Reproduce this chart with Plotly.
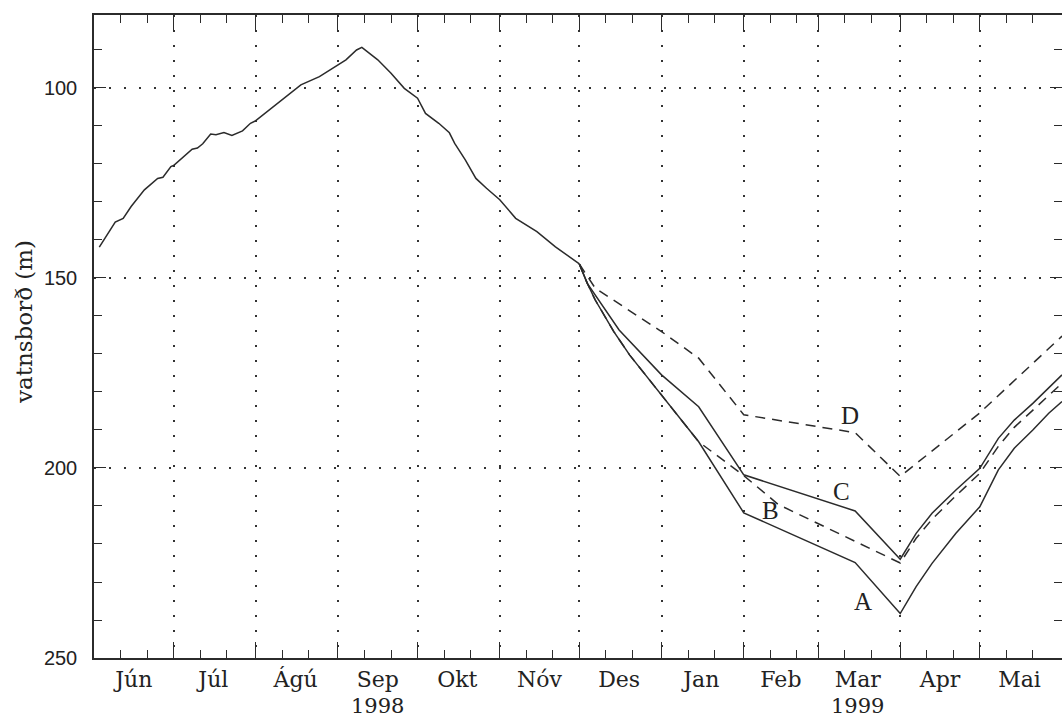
import plotly.graph_objects as go

# ---------------- data ----------------
main_dates = ["1998-06-03", "1998-06-07", "1998-06-09", "1998-06-12", "1998-06-15", "1998-06-20",
              "1998-06-23", "1998-06-25", "1998-06-27", "1998-06-30", "1998-07-01", "1998-07-05",
              "1998-07-08", "1998-07-10", "1998-07-12", "1998-07-15", "1998-07-17", "1998-07-20",
              "1998-07-23", "1998-07-27", "1998-07-30", "1998-08-01", "1998-08-07", "1998-08-13",
              "1998-08-18", "1998-08-25", "1998-08-31", "1998-09-04", "1998-09-08", "1998-09-10",
              "1998-09-16", "1998-09-21", "1998-09-26", "1998-10-01", "1998-10-04", "1998-10-09",
              "1998-10-13", "1998-10-15", "1998-10-19", "1998-10-23", "1998-10-27", "1998-11-01",
              "1998-11-07", "1998-11-15", "1998-11-22", "1998-11-30", "1998-12-01"]
main_vals = [141.9, 137.4, 135.3, 134.3, 131.2, 126.8,
             124.9, 123.8, 123.5, 120.7, 120.4, 117.9,
             116.1, 115.8, 114.7, 112.1, 112.3, 111.7,
             112.5, 111.3, 109.3, 108.6, 105.3, 101.8,
             99.2, 97.0, 94.4, 92.6, 90.0, 89.3,
             92.6, 96.1, 100.1, 102.7, 106.7, 109.3,
             111.8, 114.6, 118.9, 123.8, 126.4, 129.4,
             134.3, 137.8, 141.8, 145.7, 146.3]

a_dates = ["1998-12-01", "1998-12-04", "1998-12-07", "1998-12-14", "1998-12-20", "1999-01-01",
           "1999-01-15", "1999-02-01", "1999-03-15", "1999-04-01", "1999-04-07", "1999-04-13",
           "1999-04-22", "1999-05-01", "1999-05-05", "1999-05-08", "1999-05-14", "1999-05-21",
           "1999-05-27", "1999-06-01"]
a_vals = [146.3, 151.4, 155.8, 164.1, 170.3, 180.7,
          193.1, 211.8, 224.9, 238.3, 231.2, 225.1,
          217.2, 210.2, 204.9, 200.5, 194.8, 190.0,
          185.6, 182.5]

b_dates = ["1998-12-01", "1998-12-04", "1998-12-07", "1998-12-14", "1998-12-20", "1999-01-01",
           "1999-01-15", "1999-02-01", "1999-02-14", "1999-04-01", "1999-04-07", "1999-04-13",
           "1999-04-22", "1999-05-01", "1999-05-08", "1999-05-14", "1999-05-21", "1999-06-01"]
b_vals = [146.3, 151.4, 155.8, 164.1, 170.3, 180.7,
          193.1, 202.0, 209.6, 225.0, 218.5, 213.5,
          207.3, 201.4, 194.3, 189.3, 184.8, 177.7]

c_dates = ["1998-12-01", "1998-12-04", "1998-12-16", "1999-01-01", "1999-01-15", "1999-02-01",
           "1999-03-15", "1999-04-01", "1999-04-07", "1999-04-13", "1999-04-22", "1999-05-01",
           "1999-05-08", "1999-05-14", "1999-05-21", "1999-06-01"]
c_vals = [146.3, 151.4, 163.7, 175.5, 183.9, 201.8,
          211.3, 224.0, 217.2, 211.9, 205.8, 200.1,
          192.2, 187.4, 183.0, 175.5]

d_dates = ["1998-12-01", "1998-12-07", "1999-01-01", "1999-01-15", "1999-02-01", "1999-03-15",
           "1999-04-01", "1999-05-01", "1999-06-01"]
d_vals = [146.3, 152.7, 164.1, 171.1, 186.0, 190.7,
          202.2, 185.5, 165.3]

scenario_labels = ["A", "B", "C", "D"]
label_dates = ["1999-03-18", "1999-02-11", "1999-03-10", "1999-03-13"]
label_vals = [235.1, 211.1, 206.2, 186.1]

month_starts = ["1998-06-01", "1998-07-01", "1998-08-01", "1998-09-01", "1998-10-01", "1998-11-01",
                "1998-12-01", "1999-01-01", "1999-02-01", "1999-03-01", "1999-04-01", "1999-05-01",
                "1999-06-01"]
minor_days = ["1998-06-11", "1998-06-21", "1998-07-11", "1998-07-21", "1998-08-11", "1998-08-21",
              "1998-09-11", "1998-09-21", "1998-10-11", "1998-10-21", "1998-11-11", "1998-11-21",
              "1998-12-11", "1998-12-21", "1999-01-11", "1999-01-21", "1999-02-11", "1999-02-21",
              "1999-03-11", "1999-03-21", "1999-04-11", "1999-04-21", "1999-05-11", "1999-05-21"]
month_mids = ["1998-06-16", "1998-07-16", "1998-08-16", "1998-09-16", "1998-10-16", "1998-11-16",
              "1998-12-16", "1999-01-16", "1999-02-15", "1999-03-16", "1999-04-16", "1999-05-16"]
month_names = ["Jún", "Júl", "Ágú", "Sep", "Okt", "Nóv", "Des", "Jan", "Feb", "Mar", "Apr", "Mai"]
year_dates = ["1998-09-16", "1999-03-16"]
year_names = ["1998", "1999"]

y_major = [100, 150, 200, 250]
y_major_text = ["100", "150", "200", "250"]

# ---------------- styles ----------------
INK = "#2b2b2b"
LW = 1.5
DASH = "10px,7px"
X_RANGE = ["1998-06-01", "1999-06-01"]
SERIF = "DejaVu Serif"

fig = go.Figure()

fig.add_trace(go.Scatter(x=main_dates, y=main_vals, mode="lines",
                         line=dict(color=INK, width=LW), showlegend=False, hoverinfo="skip"))
fig.add_trace(go.Scatter(x=a_dates, y=a_vals, mode="lines",
                         line=dict(color=INK, width=LW), showlegend=False, hoverinfo="skip"))
fig.add_trace(go.Scatter(x=c_dates, y=c_vals, mode="lines",
                         line=dict(color=INK, width=LW), showlegend=False, hoverinfo="skip"))
fig.add_trace(go.Scatter(x=b_dates, y=b_vals, mode="lines",
                         line=dict(color=INK, width=LW, dash=DASH), showlegend=False, hoverinfo="skip"))
fig.add_trace(go.Scatter(x=d_dates, y=d_vals, mode="lines",
                         line=dict(color=INK, width=LW, dash=DASH), showlegend=False, hoverinfo="skip"))
# carrier trace for the month label axis
fig.add_trace(go.Scatter(x=month_mids, y=[None] * len(month_mids), xaxis="x2", mode="lines",
                         showlegend=False, hoverinfo="skip"))

for lab, xd, yv in zip(scenario_labels, label_dates, label_vals):
    fig.add_annotation(x=xd, y=yv, xref="x", yref="y", text=lab, showarrow=False,
                       font=dict(family="Liberation Serif", size=25, color="#222"))

for xd, yn in zip(year_dates, year_names):
    fig.add_annotation(x=xd, y=0, xref="x", yref="paper", text=yn, showarrow=False,
                       yanchor="middle", yshift=-48,
                       font=dict(family=SERIF, size=21, color="#222"))

fig.add_annotation(x=0, y=0.5226, xref="paper", yref="paper", text="vatnsborð (m)",
                   textangle=-90, showarrow=False, xanchor="center", yanchor="middle", xshift=-70,
                   font=dict(family=SERIF, size=23, color="#222"))

fig.update_layout(
    width=1062, height=720,
    margin=dict(l=94, r=0, t=15, b=62, autoexpand=False),
    paper_bgcolor="white", plot_bgcolor="white",
    xaxis=dict(type="date", range=X_RANGE, automargin=False,
               tickmode="array", tickvals=month_starts, showticklabels=False,
               ticks="inside", ticklen=16, tickwidth=1.3, tickcolor=INK,
               showgrid=True, gridcolor="#333", gridwidth=1.5, griddash="2px,13px",
               showline=True, linecolor=INK, linewidth=1.5, mirror="ticks", zeroline=False,
               minor=dict(tickmode="array", tickvals=minor_days, ticks="inside", ticklen=8,
                          tickwidth=1.2, tickcolor=INK, showgrid=False)),
    xaxis2=dict(type="date", range=X_RANGE, overlaying="x", anchor="y", side="bottom",
                automargin=False,
                tickmode="array", tickvals=month_mids, ticktext=month_names,
                ticks="", showgrid=False, showline=False, zeroline=False,
                ticklabelstandoff=6,
                tickfont=dict(family=SERIF, size=22, color="#222")),
    yaxis=dict(range=[250, 80.8], tickmode="array", tickvals=y_major, ticktext=y_major_text,
               automargin=False,
               ticks="inside", ticklen=12, tickwidth=1.3, tickcolor=INK,
               showgrid=True, gridcolor="#333", gridwidth=1.5, griddash="2px,13px",
               showline=True, linecolor=INK, linewidth=1.5, mirror="ticks", zeroline=False,
               ticklabelstandoff=11,
               tickfont=dict(family="Liberation Sans", size=20, color="#222"),
               minor=dict(dtick=10, tick0=0, ticks="inside", ticklen=8, tickwidth=1.2,
                          tickcolor=INK, showgrid=False)),
)

fig.write_html("out.html", config={"displayModeBar": False},
               post_script="document.body.style.margin='0';document.body.style.overflow='hidden';")
